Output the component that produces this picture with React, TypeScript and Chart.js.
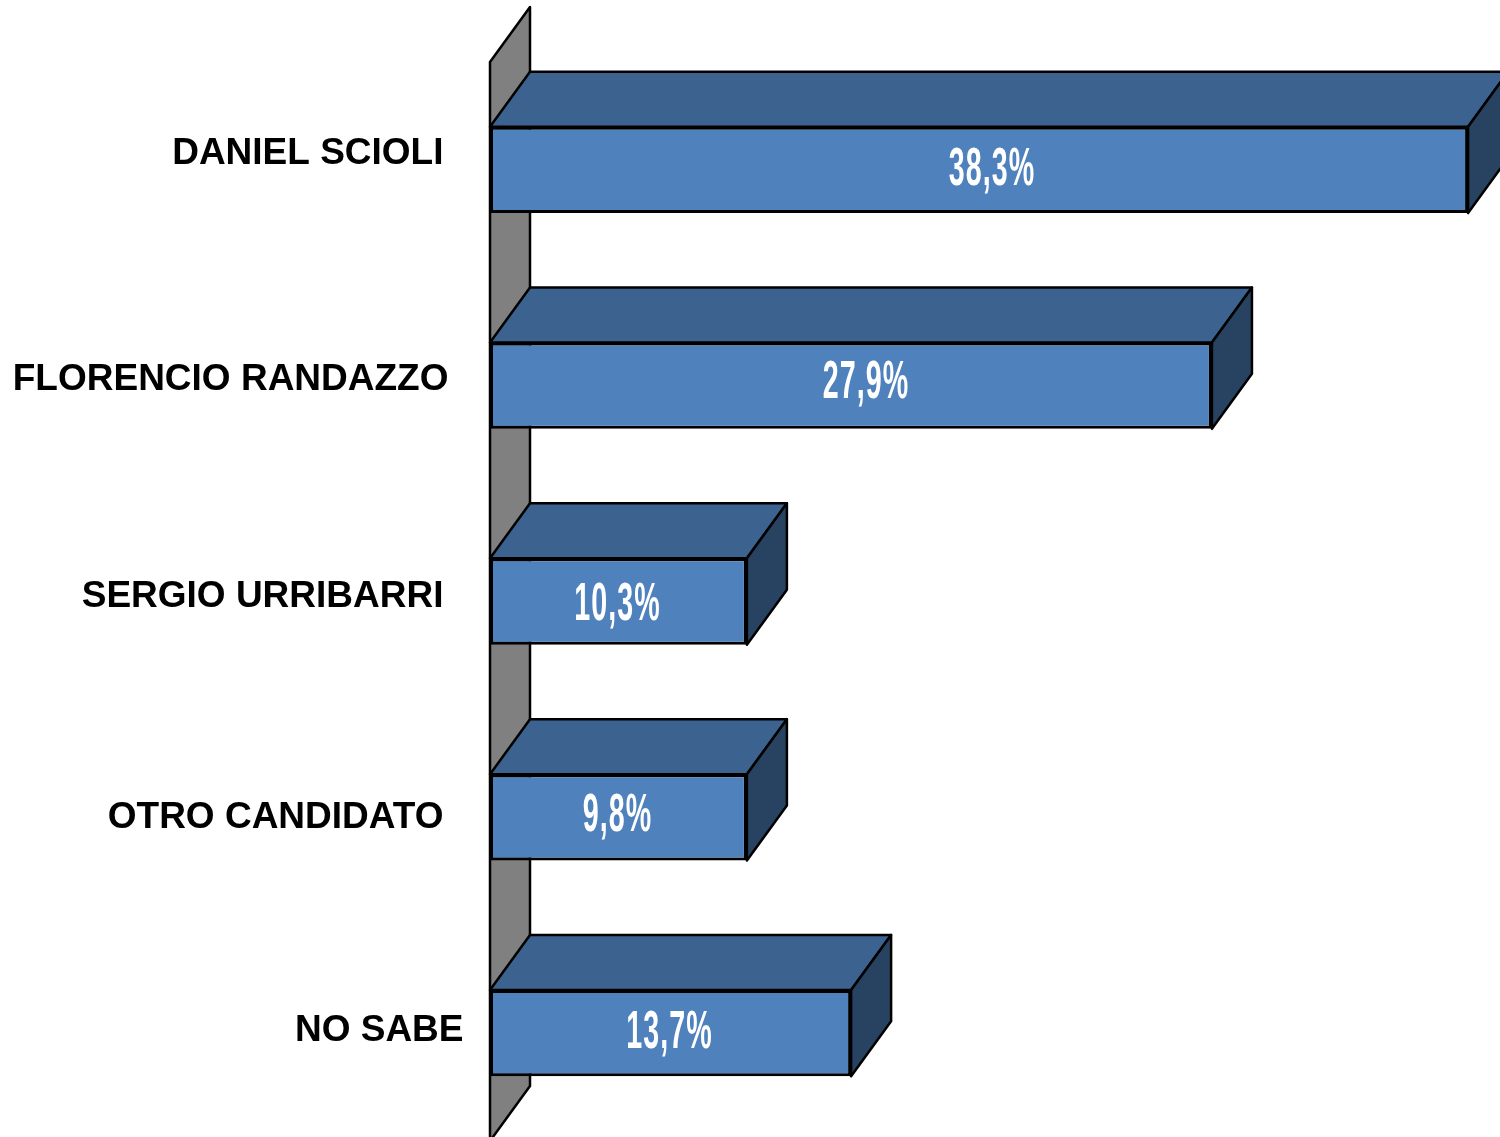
import React, { useEffect, useRef } from "react";
import { Chart, registerables } from "chart.js";

Chart.register(...registerables);

const categories = ["DANIEL SCIOLI", "FLORENCIO RANDAZZO", "SERGIO URRIBARRI", "OTRO CANDIDATO", "NO SABE"];
// Lengths as drawn in the picture (the printed labels differ slightly from them)
const barLengths = [38.3, 28.27, 10.06, 10.06, 14.14];
const valueLabels = ["38,3%", "27,9%", "10,3%", "9,8%", "13,7%"];

const labelShift = [
  { x: -46.5, y: -16.5 },
  { x: -41.5, y: -6 },
  { x: -46.5, y: -5 },
  { x: -46.5, y: 0.5 },
  { x: -26.5, y: -2.5 },
];
const valueShift = [
  { x: 13, y: 0.5 },
  { x: 15, y: -3 },
  { x: -1, y: 4 },
  { x: -1, y: -1.5 },
  { x: -1, y: 0.5 },
];

const DEPTH_X = 40;
const DEPTH_Y = -55;

const poly = (ctx: CanvasRenderingContext2D, pts: number[][], fill: string) => {
  ctx.beginPath();
  pts.forEach((p, i) => (i ? ctx.lineTo(p[0], p[1]) : ctx.moveTo(p[0], p[1])));
  ctx.closePath();
  ctx.fillStyle = fill;
  ctx.fill();
  ctx.lineWidth = 2.5;
  ctx.strokeStyle = "#000";
  ctx.lineJoin = "round";
  ctx.stroke();
};

const depthPlugin = {
  id: "depth3d",
  beforeDatasetsDraw(chart: any) {
    const { ctx, chartArea } = chart;
    const { left, top, bottom } = chartArea;
    ctx.save();
    poly(
      ctx,
      [
        [left, top],
        [left + DEPTH_X, top + DEPTH_Y],
        [left + DEPTH_X, bottom + DEPTH_Y],
        [left, bottom],
      ],
      "#808080"
    );
    chart.getDatasetMeta(0).data.forEach((bar: any) => {
      const t = bar.y - bar.height / 2;
      const b = bar.y + bar.height / 2;
      const l = bar.base;
      const r = bar.x;
      poly(
        ctx,
        [
          [l, t],
          [l + DEPTH_X, t + DEPTH_Y],
          [r + DEPTH_X, t + DEPTH_Y],
          [r, t],
        ],
        "#3C6290"
      );
      poly(
        ctx,
        [
          [r, t],
          [r + DEPTH_X, t + DEPTH_Y],
          [r + DEPTH_X, b + DEPTH_Y],
          [r, b],
        ],
        "#284262"
      );
    });
    ctx.restore();
  },
  afterDatasetsDraw(chart: any) {
    const { ctx } = chart;
    const yScale = chart.scales.y;
    const meta = chart.getDatasetMeta(0).data;
    ctx.save();
    ctx.textBaseline = "middle";
    categories.forEach((name, i) => {
      const s = labelShift[i];
      ctx.font = 'bold 37px "Liberation Sans"';
      ctx.fillStyle = "#000";
      ctx.textAlign = "right";
      ctx.fillText(name, chart.chartArea.left + s.x, yScale.getPixelForValue(i) + s.y);
    });
    valueLabels.forEach((txt, i) => {
      const bar = meta[i];
      const v = valueShift[i];
      const cx = (bar.base + bar.x) / 2 + v.x;
      ctx.save();
      ctx.translate(cx, bar.y + v.y);
      ctx.scale(0.53, 1);
      ctx.font = 'bold 54px "Liberation Sans"';
      (ctx as any).letterSpacing = "2px";
      ctx.fillStyle = "#fff";
      ctx.textAlign = "center";
      ctx.fillText(txt, 0, 0);
      ctx.restore();
    });
    ctx.restore();
  },
};

export default function App() {
  const ref = useRef<HTMLCanvasElement>(null);
  useEffect(() => {
    document.body.style.margin = "0";
    const chart = new Chart(ref.current!, {
      type: "bar",
      data: {
        labels: categories,
        datasets: [
          {
            data: barLengths,
            backgroundColor: "#4F81BD",
            borderColor: "#000",
            borderWidth: 3,
            borderSkipped: false,
            categoryPercentage: 0.4,
            barPercentage: 1,
          },
        ],
      },
      options: {
        indexAxis: "y",
        animation: false,
        responsive: false,
        layout: { padding: { left: 490, top: 62, right: 0, bottom: 0 } },
        plugins: { legend: { display: false }, tooltip: { enabled: false } },
        scales: {
          x: { display: false, min: 0, max: 39.55 },
          y: { display: false },
        },
      },
      plugins: [depthPlugin],
    } as any);
    return () => chart.destroy();
  }, []);
  return (
    <div style={{ width: 1500, height: 1137, overflow: "hidden" }}>
      <canvas ref={ref} width={1500} height={1141} style={{ display: "block" }} />
    </div>
  );
}
